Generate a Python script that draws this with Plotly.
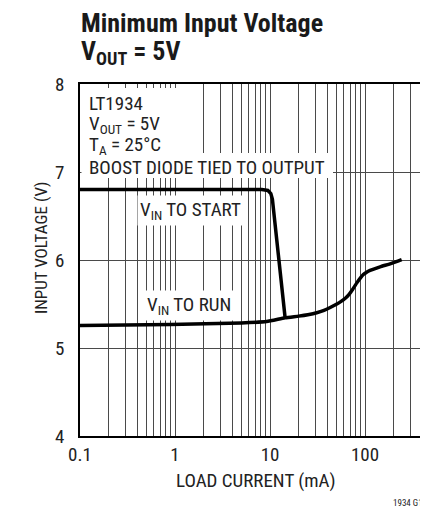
import plotly.graph_objects as go

# ---------------- data ----------------
start_current = [0.1, 1.0, 5.0, 8.2, 9.5, 10.2, 10.6, 14.4]
start_voltage = [6.80, 6.80, 6.80, 6.80, 6.79, 6.755, 6.69, 5.35]

run_current = [0.1, 0.9, 5.0, 9.2, 14.4, 20, 25, 31, 37, 43, 50, 56, 62, 68, 74, 82, 90, 96, 104, 113, 144, 190, 243]
run_voltage = [5.255, 5.267, 5.285, 5.30, 5.343, 5.362, 5.378, 5.40, 5.428, 5.46, 5.497, 5.53,
               5.565, 5.61, 5.665, 5.74, 5.80, 5.835, 5.862, 5.882, 5.922, 5.962, 6.005]

x_grid_vals = [m * 10 ** e for e in (-1, 0, 1, 2) for m in range(1, 10)]
x_tick_labels = {0.1: "0.1", 1: "1", 10: "10", 100: "100"}
y_tick_vals = [4, 5, 6, 7, 8]

# ---------------- layout geometry ----------------
# page has an 8px body margin; figure sized so the page does not overflow the window
OFF = 8
W, H = 420, 499
PL, PR, PT, PB = 80, 428, 84, 436          # plot area in window pixels
ML, MR, MT = PL - OFF, 0, PT - OFF
MB = H - (PB - OFF)
PW, PH = PR - PL, PB - PT

def px(x):
    return (x - PL) / PW

def py(y):
    return (PB - y) / PH

FONT = "Liberation Sans Narrow, Arial Narrow, Roboto Condensed, Liberation Sans, sans-serif"

fig = go.Figure()
fig.add_trace(go.Scatter(x=start_current, y=start_voltage, mode="lines",
                         line=dict(color="black", width=3.5), hoverinfo="skip"))
fig.add_trace(go.Scatter(x=run_current, y=run_voltage, mode="lines",
                         line=dict(color="black", width=3.5, shape="spline", smoothing=0.5),
                         hoverinfo="skip"))

ticktext = []
for v in x_grid_vals:
    lbl = ""
    for k, t in x_tick_labels.items():
        if abs(v - k) < 1e-9:
            lbl = t
    ticktext.append(lbl)

fig.update_xaxes(type="log", range=[-1, 2.663], tickvals=x_grid_vals, ticktext=ticktext,
                 showgrid=True, gridcolor="#4a4a4a", gridwidth=1,
                 showline=True, linecolor="black", linewidth=1.5, mirror=True,
                 ticks="", tickfont=dict(family=FONT, size=19, color="#222"),
                 ticklabelstandoff=0, zeroline=False)
fig.update_yaxes(range=[4, 8], tickvals=y_tick_vals,
                 showgrid=True, gridcolor="#4a4a4a", gridwidth=1,
                 showline=True, linecolor="black", linewidth=1.5,
                 ticks="", tickfont=dict(family=FONT, size=19, color="#222"),
                 ticklabelstandoff=10, zeroline=False)

shapes = [
    dict(type="rect", xref="paper", yref="paper", x0=px(81.5), x1=px(197), y0=py(153), y1=py(88),
         fillcolor="white", line=dict(width=0), layer="above"),
    dict(type="rect", xref="paper", yref="paper", x0=px(81.5), x1=px(333), y0=py(178), y1=py(153),
         fillcolor="white", line=dict(width=0), layer="above"),
]

def ann(text, x, y, size=19, anchor="left", bg=None, color="#222"):
    d = dict(text=text, xref="paper", yref="paper", x=px(x), y=py(y), xanchor=anchor,
             yanchor="middle", showarrow=False, font=dict(family=FONT, size=size, color=color))
    if bg:
        d["bgcolor"] = bg
        d["borderpad"] = 2
    return d

annotations = [
    ann("<b>Minimum Input Voltage</b>", 79, 23, size=26, color="#1a1a1a"),
    ann("<b>V<sub>OUT</sub> = 5V</b>", 79, 52, size=26, color="#1a1a1a"),
    ann("LT1934", 87, 103),
    ann("V<sub>OUT</sub> = 5V", 87, 124),
    ann("T<sub>A</sub> = 25°C", 87, 145),
    ann("BOOST DIODE TIED TO OUTPUT", 87, 167),
    ann("V<sub>IN</sub> TO START", 137, 210, bg="white"),
    ann("V<sub>IN</sub> TO RUN", 144, 305, bg="white"),
    ann("LOAD CURRENT (mA)", 256, 480, anchor="center"),
    dict(text="INPUT VOLTAGE (V)", xref="paper", yref="paper", x=px(40.5), y=py(247.5),
         xanchor="center", yanchor="middle", textangle=-90, showarrow=False,
         font=dict(family=FONT, size=17, color="#222")),
    ann("1934 G13", 391, 502.5, size=9),
]

fig.update_layout(width=W, height=H, margin=dict(l=ML, r=MR, t=MT, b=MB),
                  plot_bgcolor="white", paper_bgcolor="white", showlegend=False,
                  shapes=shapes, annotations=annotations)

fig.write_html("out.html")
